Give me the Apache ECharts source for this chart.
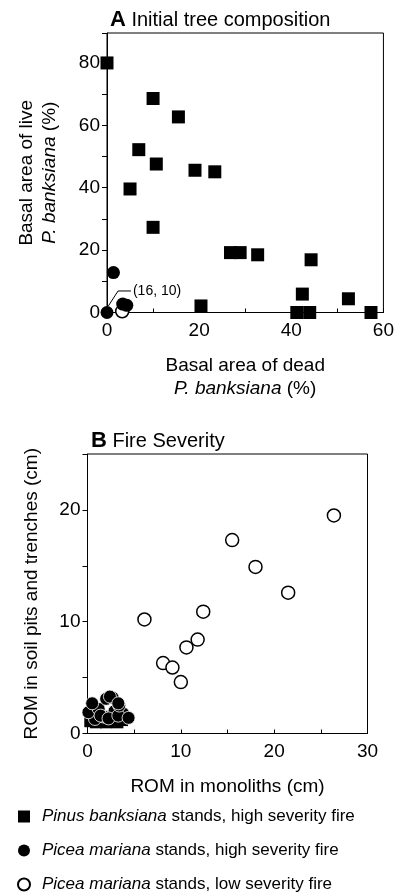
<!DOCTYPE html>
<html>
<head>
<meta charset="utf-8">
<script src="https://cdn.jsdelivr.net/npm/echarts@6/dist/echarts.min.js"></script>
<style>
  html, body { margin: 0; padding: 0; background: #fff; }
  #chart { width: 397px; height: 895px; }
</style>
</head>
<body>
<div id="chart"></div>
<script>
// Panel A: basal area of dead vs live P. banksiana (%)
var pinusA = [
  [0, 80], [10.0, 68.6], [15.5, 62.7], [6.9, 52.2], [10.7, 47.6], [19.1, 45.6],
  [23.4, 45.1], [5.0, 39.6], [10.0, 27.3], [26.8, 19.2], [28.9, 19.2], [32.7, 18.5],
  [44.3, 16.9], [42.4, 5.9], [52.4, 4.4], [20.4, 2.1], [41.2, 0], [44.0, 0], [57.3, 0]
];
var piceaHighA = [[1.4, 12.8], [0, 0], [4.3, 2.3], [3.4, 2.7]];
var piceaLowA = [[3.3, 0.4]];
var calloutA = [[0.3, 2.1], [2.4, 6.9], [5.2, 6.9]];

// Panel B: ROM in monoliths vs soil pits and trenches (cm)
var pinusB = [
  [0.3, 1.1], [0.9, 1.0], [1.5, 1.2], [2.0, 1.0], [2.6, 1.1], [3.2, 1.0],
  [3.7, 1.2], [1.2, 1.4], [2.3, 1.5], [0.5, 1.5]
];
var piceaHighB = [
  [0.8, 1.3], [1.8, 1.5], [3.8, 1.8], [2.9, 2.0], [0.1, 1.9], [1.2, 2.2],
  [1.4, 1.6], [2.25, 1.35], [3.3, 1.6], [4.4, 1.4], [3.4, 2.5], [0.5, 2.7],
  [2.0, 3.1], [2.7, 3.2], [2.4, 3.3], [3.3, 2.7]
];
var piceaLowB = [
  [26.4, 19.5], [15.5, 17.3], [18.0, 14.9], [21.5, 12.6], [12.4, 10.9], [6.1, 10.2],
  [11.8, 8.4], [10.6, 7.7], [8.1, 6.3], [9.1, 5.9], [10.0, 4.6]
];

var names = [
  'Pinus banksiana stands, high severity fire',
  'Picea mariana stands, high severity fire',
  'Picea mariana stands, low severity fire'
];

var font = '"Liberation Sans", Arial, sans-serif';
var chart = echarts.init(document.getElementById('chart'));

function xAxis(idx, max, interval, name, nameGap) {
  return {
    type: 'value', gridIndex: idx, min: 0, max: max, interval: interval,
    name: name, nameLocation: 'middle', nameGap: nameGap,
    nameTextStyle: {
      color: '#000', fontSize: 19, fontFamily: font, lineHeight: 23,
      rich: { i: { fontStyle: 'italic', fontSize: 19, fontFamily: font, color: '#000' } }
    },
    axisLine: { show: true, onZero: false, lineStyle: { color: '#000', width: 1 } },
    axisTick: { show: true, inside: true, length: 4, lineStyle: { color: '#000' } },
    minorTick: { show: true, splitNumber: 2, length: 4, lineStyle: { color: '#000' } },
    axisLabel: { color: '#000', fontSize: 19, fontFamily: font, margin: 9 },
    splitLine: { show: false }
  };
}

function yAxis(idx, max, interval, name, nameGap, lh) {
  return {
    type: 'value', gridIndex: idx, min: 0, max: max, interval: interval,
    name: name, nameLocation: 'middle', nameGap: nameGap,
    nameTextStyle: {
      color: '#000', fontSize: 19, fontFamily: font, lineHeight: lh,
      rich: { i: { fontStyle: 'italic', fontSize: 19, fontFamily: font, color: '#000' } }
    },
    axisLine: { show: true, onZero: false, lineStyle: { color: '#000', width: 1 } },
    axisTick: { show: true, inside: false, length: 5, lineStyle: { color: '#000' } },
    minorTick: { show: true, splitNumber: 2, length: 5, lineStyle: { color: '#000' } },
    axisLabel: {
      color: '#000', fontSize: 19, fontFamily: font, margin: 7,
      formatter: function (v) { return v % interval === 0 ? v : ''; }
    },
    splitLine: { show: false }
  };
}

var sq = { color: '#000', opacity: 1 };
var dot = { color: '#000', opacity: 1 };
var ring = { color: '#fff', borderColor: '#000', borderWidth: 1.5, opacity: 1 };

chart.setOption({
  backgroundColor: '#fff',
  animation: false,
  title: [
    {
      text: '{b|A} Initial tree composition', left: 105, top: 4,
      textStyle: {
        fontSize: 20, fontWeight: 'normal', fontFamily: font, color: '#000',
        rich: { b: { fontSize: 22, fontWeight: 'bold', fontFamily: font, color: '#000' } }
      }
    },
    {
      text: '{b|B} Fire Severity', left: 86, top: 425,
      textStyle: {
        fontSize: 20, fontWeight: 'normal', fontFamily: font, color: '#000',
        rich: { b: { fontSize: 22, fontWeight: 'bold', fontFamily: font, color: '#000' } }
      }
    }
  ],
  grid: [
    { left: 107, top: 33, width: 280, height: 279.5, show: true, borderColor: '#000', borderWidth: 1 },
    { left: 87.5, top: 454, width: 280, height: 279.5, show: true, borderColor: '#000', borderWidth: 1 }
  ],
  xAxis: [
    xAxis(0, 60, 20, 'Basal area of dead\n{i|P. banksiana} (%)', 42),
    xAxis(1, 30, 10, 'ROM in monoliths (cm)', 42)
  ],
  yAxis: [
    yAxis(0, 89.6, 20, 'Basal area of live\n{i|P. banksiana} (%)', 46, 23),
    yAxis(1, 25, 10, 'ROM in soil pits and trenches (cm)', 46, 20)
  ],
  legend: {
    orient: 'vertical', left: 17, top: 808, height: 87, padding: 0, itemGap: 17,
    itemWidth: 12, itemHeight: 12,
    data: names,
    formatter: function (n) {
      var sp = n.indexOf(' stands');
      return '{i|' + n.slice(0, sp) + '}' + n.slice(sp);
    },
    textStyle: {
      color: '#000', fontSize: 17, fontFamily: font, lineHeight: 17, padding: [0, 0, 0, 7],
      rich: { i: { fontStyle: 'italic', fontSize: 17, fontFamily: font, color: '#000', lineHeight: 17 } }
    }
  },
  series: [
    {
      name: names[2], type: 'scatter', xAxisIndex: 0, yAxisIndex: 0, data: piceaLowA,
      symbol: 'circle', symbolSize: 13, itemStyle: ring, clip: false
    },
    {
      name: names[0], type: 'scatter', xAxisIndex: 0, yAxisIndex: 0, data: pinusA,
      symbol: 'rect', symbolSize: 13, itemStyle: sq, clip: false
    },
    {
      name: names[1], type: 'scatter', xAxisIndex: 0, yAxisIndex: 0, data: piceaHighA,
      symbol: 'circle', symbolSize: 13, itemStyle: dot, clip: false
    },
    {
      type: 'line', xAxisIndex: 0, yAxisIndex: 0, data: calloutA, silent: true,
      symbol: 'none', lineStyle: { color: '#000', width: 1 },
      endLabel: { show: true, formatter: '(16, 10)', color: '#000', fontSize: 14, fontFamily: font, distance: 2 }
    },
    {
      name: names[0], type: 'scatter', xAxisIndex: 1, yAxisIndex: 1, data: pinusB,
      symbol: 'rect', symbolSize: 12, itemStyle: sq, clip: false
    },
    {
      name: names[1], type: 'scatter', xAxisIndex: 1, yAxisIndex: 1, data: piceaHighB,
      symbol: 'circle', symbolSize: 13, itemStyle: { color: '#000', borderColor: '#fff', borderWidth: 0.8, opacity: 1 }, clip: false
    },
    {
      name: names[2], type: 'scatter', xAxisIndex: 1, yAxisIndex: 1, data: piceaLowB,
      symbol: 'circle', symbolSize: 13, itemStyle: ring, clip: false
    }
  ]
});
</script>
</body>
</html>
